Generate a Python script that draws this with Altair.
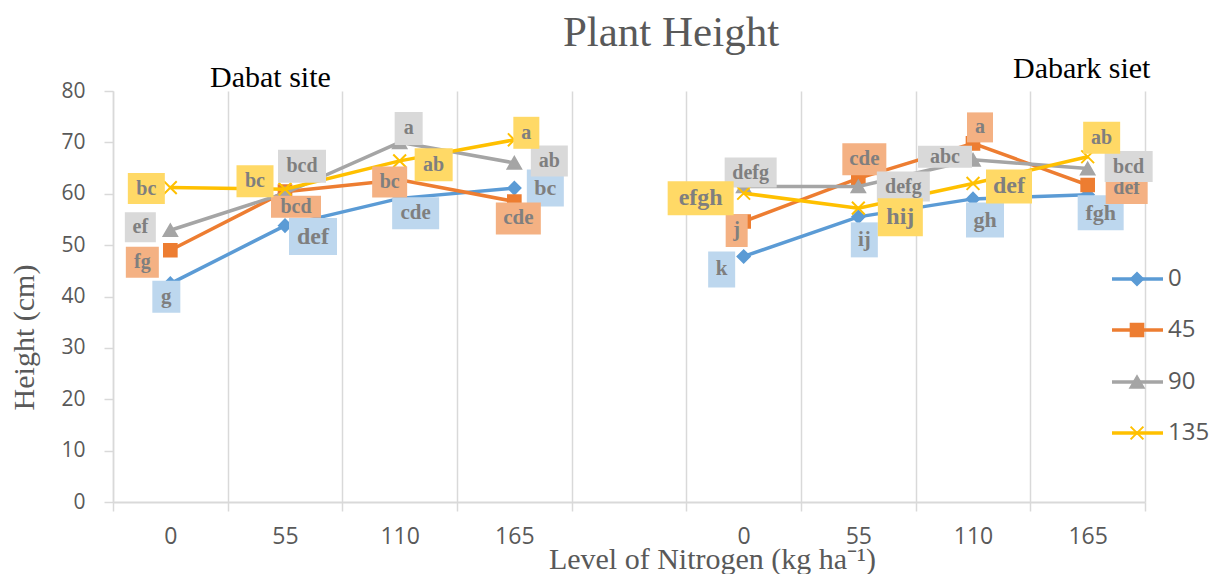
import altair as alt
import pandas as pd

# ---------------- data ----------------
chart_title = "Plant Height"
sites = ["Dabat site", "Dabark siet"]
nitrogen = ["0", "55", "110", "165"]
series = ["0", "45", "90", "135"]

# plant height (cm): Dabat 0,55,110,165 then Dabark 0,55,110,165
h_0 = [42.5, 53.8, 59.1, 61.1, 47.8, 55.5, 59.0, 59.8]
h_45 = [49.0, 60.4, 62.7, 58.5, 54.6, 63.0, 69.8, 61.7]
h_90 = [52.9, 60.1, 70.0, 66.0, 61.4, 61.4, 66.6, 64.9]
h_135 = [61.2, 60.9, 66.4, 70.5, 60.1, 57.2, 62.0, 67.2]

# mean-separation letters
l_0 = ["g", "def", "cde", "bc", "k", "ij", "gh", "fgh"]
l_45 = ["fg", "bcd", "bc", "cde", "j", "cde", "a", "def"]
l_90 = ["ef", "bcd", "a", "ab", "defg", "defg", "abc", "bcd"]
l_135 = ["bc", "bc", "ab", "a", "efgh", "hij", "def", "ab"]

heights = [h_0, h_45, h_90, h_135]
letters = [l_0, l_45, l_90, l_135]

# ---------------- styling ----------------
line_colors = ["#5B9BD5", "#ED7D31", "#A5A5A5", "#FFC000"]
box_colors = ["#BDD7EE", "#F4B183", "#D9D9D9", "#FFD966"]
shapes = ["diamond", "square", "triangle-up", "M-0.8,-0.8L0.8,0.8M-0.8,0.8L0.8,-0.8"]
sizes = [150, 160, 180, 256]

# label placement (pixel offsets from the point), box size and font size
lab_dx = [[-4, 28, 16, 31, -22, 6, 12, 13],
          [-28, 11, -10, 4, -7, 6, 7, 39],
          [-30, 17, 9, 35, 7, 45, -28, 41],
          [-24, -30, 34, 12, -43, 42, 36, 14]]
lab_dy = [[13, 11, 15, 0, 13, 23, 21, 18],
          [12, 15, 2, 17, 9, -19, -16, 3],
          [-3, -27, -14, -2, -14, 0, -3, -2],
          [1, -8, 4, -7, 5, 9, 3, -19]]
box_w = [[28, 48, 47, 37, 27, 27, 38, 46],
         [33, 50, 35, 45, 22, 44, 26, 42],
         [31, 48, 28, 37, 52, 53, 54, 48],
         [37, 37, 38, 26, 66, 45, 46, 37]]
box_h = [[32, 37, 32, 37, 36, 35, 35, 35],
         [31, 22, 31, 32, 33, 32, 30, 32],
         [30, 33, 33, 31, 30, 30, 22, 31],
         [31, 32, 33, 32, 34, 38, 34, 32]]
font_sz = [[21, 24, 21, 22, 21, 21, 22, 22],
           [20, 20, 20, 21, 20, 21, 20, 20],
           [20, 20, 20, 20, 20, 20, 20, 20],
           [20, 20, 20, 20, 24, 24, 24, 20]]

W, H = 1032, 411
NCAT = 9
XU = W / NCAT       # pixels per category
YU = H / 80.0       # pixels per cm

rows = []
for k, s in enumerate(series):
    for j in range(8):
        si, ni = divmod(j, 4)
        pos = si * 5 + ni + 0.5
        v = heights[k][j]
        cx = pos + lab_dx[k][j] / XU
        cy = v - lab_dy[k][j] / YU
        w, hh = box_w[k][j], box_h[k][j]
        rows.append(dict(series=s, site=sites[si], nitrogen=nitrogen[ni], x=pos,
                         height=v, letter=letters[k][j], lx=cx, ly=cy,
                         x1=cx - w / 2 / XU, x2=cx + w / 2 / XU,
                         y1=cy - hh / 2 / YU, y2=cy + hh / 2 / YU,
                         fs=font_sz[k][j]))
df = pd.DataFrame(rows)

tick_labels = nitrogen + [""] + nitrogen + [""]
label_expr = "[" + ",".join("'" + t + "'" for t in tick_labels) + "][datum.value]"

xscale = alt.Scale(domain=[0, NCAT], nice=False, zero=False)
yscale = alt.Scale(domain=[0, 80], nice=False)

xaxis = alt.Axis(values=list(range(NCAT + 1)), labelExpr=label_expr,
                 labelOffset=XU / 2, labelFlush=False, labelOverlap=False,
                 grid=True, gridColor="#D9D9D9", gridWidth=1.5,
                 ticks=True, tickColor="#D9D9D9", tickSize=9, tickWidth=1.5,
                 domainColor="#D9D9D9", domainWidth=2,
                 labelFont="Open Sans", labelFontSize=23, labelColor="#595959",
                 labelPadding=14,
                 title="Level of Nitrogen (kg ha⁻¹)", titleFont="Liberation Serif",
                 titleFontSize=30, titleFontWeight="normal", titleColor="#595959",
                 titleX=599, titleY=66, titleBaseline="alphabetic", titleAlign="center")
yaxis = alt.Axis(values=list(range(0, 81, 10)), grid=False,
                 ticks=True, tickColor="#D9D9D9", tickSize=9, tickWidth=1.5,
                 domainColor="#D9D9D9", domainWidth=1.5,
                 labelFont="Open Sans", labelFontSize=21, labelColor="#595959",
                 labelPadding=19,
                 title="Height (cm)", titleFont="Liberation Serif", titleFontSize=30,
                 titleFontWeight="normal", titleColor="#595959",
                 titleAngle=270, titleX=-89, titleY=246, titleBaseline="middle",
                 titleAlign="center")

layers = []
for k, s in enumerate(series):
    sub = df[df.series == s]
    base = alt.Chart(sub)
    layers.append(base.mark_line(strokeWidth=3.5, color=line_colors[k]).encode(
        x=alt.X("x:Q", scale=xscale, axis=xaxis),
        y=alt.Y("height:Q", scale=yscale, axis=yaxis),
        detail="site:N"))
    layers.append(base.mark_point(shape=shapes[k], size=sizes[k], filled=True,
                                  fill=line_colors[k], stroke=line_colors[k],
                                  strokeWidth=2, opacity=1).encode(
        x=alt.X("x:Q", scale=xscale, axis=xaxis),
        y=alt.Y("height:Q", scale=yscale, axis=yaxis)))

for k, s in enumerate(series):
    sub = df[df.series == s]
    base = alt.Chart(sub)
    layers.append(base.mark_rect(color=box_colors[k]).encode(
        x=alt.X("x1:Q", scale=xscale, axis=xaxis), x2="x2:Q",
        y=alt.Y("y1:Q", scale=yscale, axis=yaxis), y2="y2:Q"))
    layers.append(base.mark_text(font="Liberation Serif", fontWeight="bold",
                                 color="#7F7F7F", align="center",
                                 baseline="middle").encode(
        x=alt.X("lx:Q", scale=xscale, axis=xaxis),
        y=alt.Y("ly:Q", scale=yscale, axis=yaxis),
        text="letter:N",
        size=alt.Size("fs:Q", scale=None)))

# chart title
layers.append(alt.Chart(pd.DataFrame({"t": [chart_title]})).mark_text(
    font="Liberation Serif", fontSize=43, color="#595959", align="center",
    baseline="alphabetic").encode(text="t:N", x=alt.value(558), y=alt.value(-45)))

# site captions
site_df = pd.DataFrame({"site": sites})
site_x = [97, 900]
site_y = [-4, -13]
for i, s in enumerate(sites):
    layers.append(alt.Chart(site_df).transform_filter(alt.datum.site == s).mark_text(
        font="Liberation Serif", fontSize=30, color="#000000", align="left",
        baseline="alphabetic").encode(text="site:N", x=alt.value(site_x[i]),
                                      y=alt.value(site_y[i])))

# legend
leg_y = [188, 239, 291, 342]
for k, s in enumerate(series):
    ldf = pd.DataFrame({"series": [s]})
    lb = alt.Chart(ldf)
    layers.append(lb.mark_rule(strokeWidth=3.5, color=line_colors[k]).encode(
        x=alt.value(999), x2=alt.value(1050), y=alt.value(leg_y[k])))
    layers.append(lb.mark_point(shape=shapes[k], size=sizes[k], filled=True,
                                fill=line_colors[k], stroke=line_colors[k],
                                strokeWidth=2, opacity=1).encode(
        x=alt.value(1024), y=alt.value(leg_y[k])))
    layers.append(lb.mark_text(font="Open Sans", fontSize=24, color="#595959",
                               align="left", baseline="middle").encode(
        text="series:N", x=alt.value(1055), y=alt.value(leg_y[k])))

chart = alt.layer(*layers).properties(
    width=W, height=H,
    autosize=alt.AutoSizeParams(type="none"),
    padding={"left": 105, "top": 83, "right": 64, "bottom": 72},
    background="white",
).configure_view(stroke=None)

chart.save("out.html", embed_options={"renderer": "svg", "actions": False})
